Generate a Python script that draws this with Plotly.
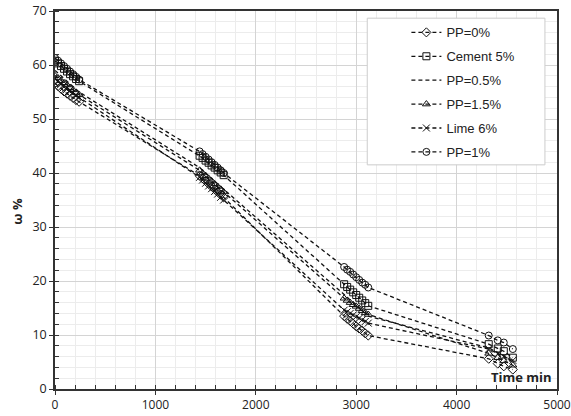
import plotly.graph_objects as go

# Time (min) at which readings were taken, four drying sessions
time_min = [0, 30, 60, 90, 120, 150, 180, 210, 240,
            1440, 1470, 1500, 1530, 1560, 1590, 1620, 1650, 1680,
            2880, 2910, 2940, 2970, 3000, 3030, 3060, 3090, 3120,
            4320, 4410, 4470, 4560]

series_names = ["PP=0%", "Cement 5%", "PP=0.5%", "PP=1.5%", "Lime 6%", "PP=1%"]

pp0 = [56.6, 56.1, 55.6, 55.1, 54.7, 54.3, 53.9, 53.5, 53.2,
       39.5, 39.0, 38.5, 38.0, 37.5, 37.0, 36.5, 36.0, 35.5,
       13.5, 13.0, 12.6, 12.1, 11.6, 11.2, 10.8, 10.3, 9.9,
       5.6, 4.7, 4.2, 3.6]
cement5 = [60.8, 60.3, 59.8, 59.3, 58.8, 58.3, 57.9, 57.4, 57.0,
           43.2, 42.8, 42.3, 41.9, 41.4, 41.0, 40.5, 40.1, 39.6,
           19.4, 18.9, 18.4, 17.9, 17.4, 16.9, 16.4, 15.9, 15.4,
           8.3, 7.5, 7.0, 5.8]
pp05 = [59.0, 58.5, 58.0, 57.5, 57.0, 56.5, 56.0, 55.5, 55.0,
        41.0, 40.5, 40.0, 39.5, 39.0, 38.5, 38.0, 37.5, 37.0,
        17.5, 17.0, 16.5, 16.0, 15.5, 15.0, 14.5, 14.0, 13.5,
        7.6, 6.8, 6.2, 5.0]
pp15 = [58.0, 57.6, 57.1, 56.7, 56.3, 55.8, 55.4, 54.9, 54.5,
        40.5, 40.0, 39.5, 39.0, 38.5, 38.0, 37.5, 37.0, 36.5,
        16.8, 16.4, 16.0, 15.6, 15.3, 14.9, 14.5, 14.1, 13.8,
        6.6, 5.8, 5.2, 4.4]
lime6 = [57.5, 57.1, 56.6, 56.2, 55.8, 55.3, 54.9, 54.4, 54.0,
         39.2, 38.7, 38.1, 37.6, 37.1, 36.6, 36.1, 35.5, 35.0,
         14.6, 14.3, 14.0, 13.7, 13.4, 13.1, 12.8, 12.5, 12.2,
         7.4, 6.5, 6.0, 5.3]
pp1 = [61.3, 60.8, 60.3, 59.8, 59.3, 58.8, 58.3, 57.8, 57.3,
       44.0, 43.5, 43.0, 42.5, 42.0, 41.5, 41.0, 40.5, 40.0,
       22.6, 22.1, 21.7, 21.2, 20.7, 20.2, 19.7, 19.3, 18.8,
       9.9, 9.0, 8.6, 7.4]

x_ticks = [0, 1000, 2000, 3000, 4000, 5000]
y_ticks = [0, 10, 20, 30, 40, 50, 60, 70]

values = [pp0, cement5, pp05, pp15, lime6, pp1]
symbols = ["diamond-open", "square-open", None, "triangle-up-open", "x-thin-open", "circle-open"]

DASH = "4px,3px"
fig = go.Figure()
for name, vals, sym in zip(series_names, values, symbols):
    if sym is None:
        fig.add_trace(go.Scatter(x=time_min, y=vals, name=name, mode="lines", legendgroup=name,
                                 line=dict(color="#111", width=1.3, dash=DASH)))
    else:
        fig.add_trace(go.Scatter(x=time_min, y=vals, name=name, mode="lines+markers", legendgroup=name,
                                 line=dict(color="#111", width=1.3, dash=DASH),
                                 marker=dict(symbol=sym, size=7, color="#111",
                                             line=dict(color="#111", width=1))))

fig.update_layout(
    width=571, height=416,
    margin=dict(l=55, r=14, t=11, b=27, autoexpand=False),
    paper_bgcolor="white", plot_bgcolor="white",
    font=dict(family="Open Sans, Arial, sans-serif", size=12, color="#222"),
    showlegend=True,
    legend=dict(x=0.70, y=0.983, xanchor="left", yanchor="top",
                bgcolor="rgba(0,0,0,0)", borderwidth=0,
                font=dict(family="Liberation Sans, Arial, sans-serif", size=13, color="#222"),
                itemwidth=30, tracegroupgap=4),
    xaxis=dict(range=[0, 5000], tickvals=x_ticks, ticktext=[str(v) for v in x_ticks],
               showgrid=True, gridcolor="#d4d4d4", gridwidth=1, automargin=False,
               ticklabeloverflow="allow",
               showline=True, linecolor="#333", linewidth=1.5, mirror=True,
               ticks="outside", ticklen=4, tickcolor="#333", zeroline=False,
               tickfont=dict(size=12, color="#222"),
               minor=dict(dtick=200, showgrid=True, gridcolor="#ececec", ticks="inside",
                          ticklen=4, tickcolor="#333")),
    yaxis=dict(range=[0, 70], tickvals=y_ticks, ticktext=[str(v) for v in y_ticks],
               showgrid=True, gridcolor="#d4d4d4", gridwidth=1, automargin=False,
               ticklabeloverflow="allow",
               showline=True, linecolor="#333", linewidth=1.5, mirror=True,
               ticks="outside", ticklen=4, tickcolor="#333", zeroline=False,
               tickfont=dict(size=12.5, color="#222"),
               minor=dict(dtick=2, showgrid=True, gridcolor="#ececec", ticks="inside",
                          ticklen=4, tickcolor="#333")),
    shapes=[dict(type="rect", xref="paper", yref="paper", x0=0.622, x1=0.976, y0=0.593, y1=0.981,
                 fillcolor="white", line=dict(color="#cccccc", width=1), layer="above")],
    annotations=[
        dict(text="<b>ω %</b>", x=-0.075, y=0.47, xref="paper", yref="paper", textangle=-90,
             xanchor="center", yanchor="middle", showarrow=False,
             font=dict(size=13, color="#222", family="Open Sans, Arial, sans-serif")),
        dict(text="<b>Time min</b>", x=1, y=0, xref="paper", yref="paper",
             xanchor="right", yanchor="bottom", showarrow=False, xshift=-3, yshift=1,
             font=dict(size=13, color="#222", family="Open Sans, Arial, sans-serif")),
    ],
)

# remove the browser's default 8px body margin so the figure fills the window exactly
fig.write_html("out.html", config={"displayModeBar": False},
               post_script="document.body.style.margin='0';document.body.style.overflow='hidden';")
